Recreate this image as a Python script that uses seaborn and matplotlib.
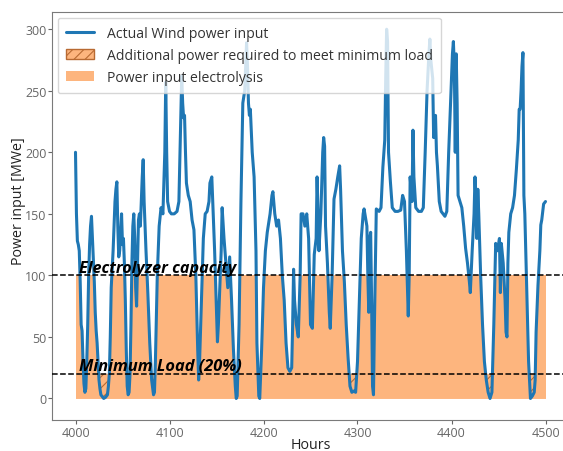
import numpy as np
import pandas as pd
import matplotlib
matplotlib.use("Agg")
import matplotlib.pyplot as plt
from matplotlib.lines import Line2D
from matplotlib.patches import Patch, Rectangle
import seaborn as sns

# Wind power readings (hour, MWe)
hours = [4000, 4001, 4002, 4003, 4004, 4005, 4006, 4007, 4008, 4009, 4010, 4011, 4012, 4013, 4014, 4015,
         4016, 4017, 4018, 4019, 4020, 4021, 4022, 4023, 4024, 4025, 4026, 4027, 4028, 4030, 4032, 4034,
         4035, 4036, 4037, 4038, 4039, 4040, 4041, 4042, 4043, 4044, 4045, 4046, 4047, 4048, 4049, 4050,
         4051, 4052, 4053, 4054, 4055, 4056, 4057, 4058, 4059, 4060, 4061, 4062, 4063, 4064, 4065, 4066,
         4067, 4068, 4069, 4070, 4071, 4072, 4073, 4075, 4077, 4079, 4081, 4083, 4084, 4085, 4087, 4089,
         4091, 4093, 4095, 4096, 4097, 4098, 4100, 4102, 4105, 4108, 4110, 4112, 4113, 4114, 4115, 4116,
         4117, 4118, 4120, 4122, 4124, 4126, 4128, 4130, 4131, 4132, 4134, 4136, 4138, 4140, 4142, 4143,
         4145, 4146, 4148, 4150, 4151, 4152, 4153, 4155, 4156, 4158, 4160, 4162, 4164, 4166, 4168, 4170,
         4171, 4172, 4174, 4176, 4178, 4180, 4182, 4183, 4184, 4185, 4186, 4188, 4190, 4192, 4193, 4195,
         4196, 4198, 4200, 4202, 4204, 4205, 4207, 4209, 4210, 4212, 4214, 4216, 4218, 4220, 4222, 4224,
         4226, 4228, 4230, 4231, 4232, 4233, 4235, 4237, 4239, 4240, 4242, 4244, 4246, 4248, 4250, 4252,
         4254, 4256, 4257, 4259, 4261, 4263, 4264, 4265, 4266, 4268, 4270, 4271, 4273, 4275, 4277, 4279,
         4281, 4282, 4284, 4286, 4288, 4290, 4292, 4294, 4296, 4298, 4300, 4302, 4304, 4306, 4307, 4309,
         4310, 4311, 4312, 4313, 4314, 4315, 4316, 4317, 4318, 4320, 4323, 4325, 4327, 4329, 4330, 4331,
         4332, 4333, 4335, 4337, 4340, 4343, 4346, 4348, 4350, 4352, 4354, 4355, 4356, 4358, 4359, 4360,
         4362, 4365, 4368, 4370, 4372, 4374, 4376, 4377, 4378, 4380, 4381, 4383, 4384, 4385, 4387, 4389,
         4391, 4393, 4395, 4397, 4399, 4400, 4401, 4402, 4403, 4404, 4405, 4406, 4407, 4409, 4411, 4413,
         4415, 4417, 4419, 4420, 4422, 4424, 4425, 4426, 4427, 4428, 4429, 4431, 4433, 4435, 4437, 4439,
         4441, 4443, 4445, 4447, 4449, 4451, 4452, 4453, 4455, 4457, 4458, 4459, 4460, 4461, 4463, 4465,
         4467, 4469, 4471, 4472, 4473, 4474, 4475, 4476, 4477, 4478, 4480, 4482, 4484, 4486, 4488, 4489,
         4490, 4492, 4494, 4495, 4496, 4498, 4500]
wind_mw = [200, 150, 128, 125, 120, 95, 60, 55, 30, 12, 5, 8, 30, 60, 100, 125,
           140, 148, 130, 110, 95, 70, 55, 45, 30, 15, 8, 3, 2, 0, 1, 3,
           10, 20, 50, 90, 105, 120, 140, 160, 170, 176, 140, 115, 120, 135, 150, 125,
           130, 110, 80, 40, 10, 3, 5, 20, 60, 110, 140, 150, 130, 90, 75, 110,
           145, 150, 140, 160, 180, 194, 160, 120, 85, 45, 15, 3, 5, 30, 100, 140,
           155, 150, 200, 257, 200, 160, 152, 150, 150, 152, 160, 230, 262, 240, 228, 230,
           200, 175, 165, 160, 145, 137, 100, 40, 15, 30, 80, 130, 150, 152, 160, 175,
           180, 160, 120, 70, 46, 60, 80, 120, 155, 130, 110, 90, 115, 80, 40, 10,
           0, 2, 60, 160, 240, 250, 289, 270, 240, 230, 235, 200, 180, 120, 45, 2,
           0, 40, 90, 120, 135, 140, 150, 165, 168, 150, 140, 145, 130, 100, 80, 45,
           25, 22, 25, 60, 105, 80, 60, 50, 100, 150, 150, 140, 150, 130, 60, 57,
           117, 130, 180, 120, 150, 200, 212, 205, 140, 110, 70, 57, 100, 162, 170, 180,
           189, 170, 120, 95, 60, 33, 10, 5, 6, 5, 30, 80, 130, 150, 154, 145,
           140, 100, 70, 130, 135, 80, 10, 3, 60, 154, 152, 155, 188, 210, 260, 300,
           290, 200, 176, 155, 152, 152, 153, 165, 160, 120, 67, 100, 180, 160, 218, 180,
           155, 152, 152, 155, 200, 250, 280, 292, 275, 260, 212, 230, 200, 189, 160, 152,
           150, 148, 152, 200, 240, 262, 280, 290, 270, 200, 280, 240, 165, 160, 155, 140,
           122, 110, 95, 86, 120, 150, 180, 160, 130, 170, 150, 100, 60, 30, 15, 5,
           0, 5, 60, 126, 120, 130, 86, 126, 110, 80, 54, 50, 110, 135, 150, 155,
           165, 186, 210, 235, 235, 250, 270, 281, 165, 150, 90, 30, 0, 2, 5, 15,
           54, 92, 120, 141, 145, 158, 160]

capacity_mw = 100
min_load_mw = 20
x_ticks = [4000, 4100, 4200, 4300, 4400, 4500]
y_ticks = [0, 50, 100, 150, 200, 250, 300]

df = pd.DataFrame({"Hours": hours, "Wind": wind_mw})

sns.set_style("ticks")
plt.rcParams["font.family"] = ["Open Sans", "DejaVu Sans"]

blue = "#1f77b4"
orange = "#fdb57e"
hatch_col = "#b86a32"
plt.rcParams["hatch.color"] = hatch_col
plt.rcParams["hatch.linewidth"] = 0.8

fig = plt.figure(figsize=(5.63, 4.52), dpi=100)
ax = fig.add_axes([52 / 563, 31 / 452, 517 / 563, 408 / 452])

h = df["Hours"].to_numpy(dtype=float)
w = df["Wind"].to_numpy(dtype=float)

# Electrolysis input: wind power capped at capacity, never below minimum load
under = ax.fill_between(h, 0, w, color=orange, lw=0, zorder=1)
under.set_clip_path(Rectangle((h[0], 0), h[-1] - h[0], capacity_mw,
                              transform=ax.transData))
ax.fill_between([h[0], h[-1]], 0, min_load_mw, color=orange, lw=0, zorder=1)

# Extra power needed where wind falls below minimum load
ax.fill_between(h, w, min_load_mw, where=w < min_load_mw, interpolate=True,
                facecolor=orange, edgecolor=hatch_col, hatch="///", lw=0, zorder=2)

sns.lineplot(data=df, x="Hours", y="Wind", ax=ax, color=blue, linewidth=2.2,
             zorder=3, legend=False)

ax.axhline(capacity_mw, color="black", ls="--", lw=1.1, zorder=4)
ax.axhline(min_load_mw, color="black", ls="--", lw=1.1, zorder=4)

ax.text(4004, capacity_mw + 3, "Electrolyzer capacity", fontsize=11.6,
        fontweight="bold", fontstyle="italic", color="black", zorder=5)
ax.text(4004, min_load_mw + 3, "Minimum Load (20%)", fontsize=11.8,
        fontweight="bold", fontstyle="italic", color="black", zorder=5)

ax.set_xlim(3975, 4525)
ax.set_ylim(-17.5, 314)
ax.set_xticks(x_ticks)
ax.set_yticks(y_ticks)
ax.tick_params(labelsize=9, colors="#666666", length=3, pad=1)
for s in ax.spines.values():
    s.set_color("#7a7a7a")
ax.set_xlabel("Hours", fontsize=10.3, color="#222222", labelpad=-1)
ax.set_ylabel("Power input [MWe]", fontsize=10.3, color="#222222")
ax.yaxis.set_label_coords(-0.05, 0.54)

handles = [
    Line2D([], [], color=blue, lw=2.2),
    Patch(facecolor=orange, edgecolor=hatch_col, hatch="///"),
    Patch(facecolor=orange, edgecolor="none"),
]
labels = ["Actual Wind power input",
          "Additional power required to meet minimum load",
          "Power input electrolysis"]
leg = ax.legend(handles, labels, loc="upper left", fontsize=10.1, frameon=True,
                handlelength=2.0, handletextpad=0.9, borderpad=0.6,
                borderaxespad=0.4)
leg.get_frame().set_edgecolor("#cccccc")
for t in leg.get_texts():
    t.set_color("#333333")

fig.savefig("out.png", dpi=100)
